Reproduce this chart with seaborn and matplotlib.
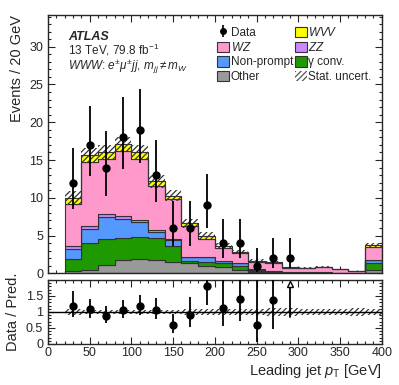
import numpy as np
import pandas as pd
import matplotlib
matplotlib.use("Agg")
import matplotlib.pyplot as plt
import seaborn as sns
from matplotlib.patches import Patch
from matplotlib.ticker import MultipleLocator, FixedLocator, FormatStrFormatter

# ---------------- data ----------------
bin_edges = list(range(20, 401, 20))
bin_centers = [30, 50, 70, 90, 110, 130, 150, 170, 190, 210, 230, 250, 270, 290, 310, 330, 350, 370, 390]

other = [0.25, 0.5, 1.1, 1.7, 1.85, 1.8, 1.5, 1.3, 0.95, 0.88, 0.5, 0.2, 0.15, 0.08, 0.05, 0.05, 0.04, 0.02, 0.45]
gconv = [1.59, 3.45, 3.5, 2.95, 3.0, 2.9, 2.15, 0.3, 0.55, 0.52, 0.46, 0.05, 0.05, 0.02, 0.02, 0.02, 0.02, 0.01, 0.95]
nonprompt = [1.41, 1.9, 2.9, 2.6, 1.9, 0.8, 0.8, 0.5, 0.6, 0.2, 0.34, 0.25, 0.1, 0.05, 0.03, 0.03, 0.02, 0.02, 0.35]
zz = [0.35, 0.45, 0.35, 0.35, 0.3, 0.25, 0.15, 0.1, 0.1, 0.05, 0.05, 0.02, 0.02, 0.01, 0.01, 0.01, 0.01, 0.0, 0.05]
wz = [5.6, 8.4, 7.25, 8.6, 8.05, 5.75, 5.2, 4.0, 2.4, 1.75, 1.3, 1.01, 1.08, 0.6, 0.61, 0.69, 0.46, 0.19, 1.7]
wvv = [0.8, 1.0, 0.95, 0.9, 0.9, 0.7, 0.5, 0.4, 0.4, 0.2, 0.2, 0.14, 0.05, 0.04, 0.03, 0.03, 0.02, 0.02, 0.2]
stat_unc = [0.85, 0.9, 0.95, 0.95, 0.95, 0.85, 0.75, 0.55, 0.45, 0.35, 0.3, 0.18, 0.16, 0.09, 0.08, 0.08, 0.06, 0.03, 0.35]

data_x = [30, 50, 70, 90, 110, 130, 150, 170, 190, 210, 230, 250, 270, 290]
data_counts = [12, 17, 14, 18, 19, 13, 6, 6, 9, 4, 4, 1, 2, 2]
data_err_up = [4.57, 5.21, 4.84, 5.33, 5.44, 4.71, 3.60, 3.60, 4.12, 3.18, 3.18, 2.32, 2.66, 2.66]
data_err_dn = [3.43, 4.09, 3.71, 4.21, 4.33, 3.57, 2.40, 2.40, 2.96, 1.94, 1.94, 0.87, 1.32, 1.32]

proc_names = ["WVV", "WZ", "ZZ", "Non-prompt", "γ conv.", "Other"]
proc_values = [wvv, wz, zz, nonprompt, gconv, other]
proc_colors = ["#ffff00", "#ff99cc", "#cc88ff", "#5599ff", "#1f9900", "#999999"]

# ---------------- style ----------------
sns.set_theme(style="ticks")
plt.rcParams["font.family"] = ["Liberation Sans", "DejaVu Sans"]
plt.rcParams["mathtext.fontset"] = "custom"
plt.rcParams["mathtext.rm"] = "Liberation Sans"
plt.rcParams["mathtext.it"] = "Liberation Sans:italic"
plt.rcParams["mathtext.bf"] = "Liberation Sans:bold"
plt.rcParams["hatch.linewidth"] = 0.9
plt.rcParams["axes.linewidth"] = 1.0

W, H = 399, 385
fig = plt.figure(figsize=(W / 100, H / 100), dpi=100)
ax = fig.add_axes([48 / W, 1 - 273.3 / H, 333.7 / W, 258.3 / H])
rax = fig.add_axes([48 / W, 1 - 344 / H, 333.7 / W, 64 / H])

rows = []
for name, vals in zip(proc_names, proc_values):
    for c, v in zip(bin_centers, vals):
        rows.append({"x": c, "w": v, "proc": name})
df = pd.DataFrame(rows)

sns.histplot(df, x="x", weights="w", hue="proc", hue_order=proc_names,
             palette=dict(zip(proc_names, proc_colors)), bins=bin_edges,
             multiple="stack", element="step", alpha=1, edgecolor="#333333",
             linewidth=0.8, legend=False, ax=ax)

total = np.sum(np.array(proc_values), axis=0)
unc = np.array(stat_unc)
ax.bar(bin_centers, 2 * unc, bottom=total - unc, width=20, color="none",
       hatch="//////", edgecolor="#333333", linewidth=0, zorder=3)

ax.errorbar(data_x, data_counts, yerr=[data_err_dn, data_err_up], fmt="o",
            color="black", ms=5, elinewidth=1.3, capsize=0, zorder=5)

ax.set_xlim(0, 400)
ax.set_ylim(0, 34.2)
ax.set_xlabel("")
ax.set_ylabel("Events / 20 GeV", loc="top", fontsize=10.5)
ax.xaxis.set_major_locator(MultipleLocator(50))
ax.xaxis.set_minor_locator(MultipleLocator(10))
ax.yaxis.set_major_locator(MultipleLocator(5))
ax.yaxis.set_minor_locator(MultipleLocator(1))
ax.tick_params(axis="both", which="both", direction="in", top=True, right=True, labelsize=9)
ax.tick_params(which="major", length=5, width=0.8)
ax.tick_params(which="minor", length=2.5, width=0.8)
ax.tick_params(axis="x", labelbottom=False)

# legend
data_handle = ax.errorbar([np.nan], [np.nan], yerr=[[1], [1]], fmt="o", color="black",
                          ms=4, elinewidth=1.2, capsize=0)
patch = {n: Patch(facecolor=c, edgecolor="#333333", linewidth=0.8)
         for n, c in zip(proc_names, proc_colors)}
stat_handle = Patch(facecolor="none", edgecolor="#555555", hatch="//////", linewidth=0)
handles = [data_handle, patch["WZ"], patch["Non-prompt"], patch["Other"],
           patch["WVV"], patch["ZZ"], patch["γ conv."], stat_handle]
labels = ["Data", "$WZ$", "Non-prompt", "Other", "$WVV$", "$ZZ$", "γ conv.", "Stat. uncert."]
ax.legend(handles, labels, ncol=2, loc="upper left", bbox_to_anchor=(0.507, 0.958),
          frameon=False, fontsize=8.5, handlelength=1.0, handleheight=1.0,
          handletextpad=0.15, columnspacing=0.15, labelspacing=0.18,
          borderpad=0, borderaxespad=0)

fig.text(68.5 / W, 1 - 39.5 / H, "ATLAS", fontsize=9, fontweight="bold", style="italic")
fig.text(68.5 / W, 1 - 55 / H, "13 TeV, 79.8 fb$^{-1}$", fontsize=8.5)
fig.text(68.5 / W, 1 - 70 / H, r"$WWW$: $e^{\pm}\mu^{\pm}jj$, $m_{jj} \neq m_{W}$", fontsize=8.5)

# ratio panel
rel = unc / total
rax.bar(bin_centers, 2 * rel, bottom=1 - rel, width=20, color="none",
        hatch="//////", edgecolor="#333333", linewidth=0)
rax.axhline(1, color="black", lw=1.0)
tot_data = total[:len(data_x)]
ratio = np.array(data_counts) / tot_data
r_up = np.array(data_err_up) / tot_data
r_dn = np.array(data_err_dn) / tot_data
inr = ratio < 2
rax.errorbar(np.array(data_x)[inr], ratio[inr], yerr=[r_dn[inr], r_up[inr]], fmt="o",
             color="black", ms=5, elinewidth=1.3, capsize=0, zorder=5)
for xx, rr, dd in zip(np.array(data_x)[~inr], ratio[~inr], r_dn[~inr]):
    rax.plot([xx, xx], [rr - dd, 1.86], color="black", lw=1.3)
    rax.plot([xx], [1.86], marker="^", ms=5, mfc="white", mec="black", mew=1.0)

rax.set_xlim(0, 400)
rax.set_ylim(0, 2.0)
rax.set_ylabel("Data / Pred.", fontsize=10.5)
rax.set_xlabel("Leading jet $p_{\\mathrm{T}}$ [GeV]", loc="right", fontsize=10.5, labelpad=2)
rax.xaxis.set_major_locator(MultipleLocator(50))
rax.xaxis.set_minor_locator(MultipleLocator(10))
rax.yaxis.set_major_locator(FixedLocator([0, 0.5, 1, 1.5]))
rax.yaxis.set_minor_locator(MultipleLocator(0.1))
rax.yaxis.set_major_formatter(FormatStrFormatter("%g"))
rax.tick_params(axis="both", which="both", direction="in", top=True, right=True, labelsize=9)
rax.tick_params(which="major", length=5, width=0.8)
rax.tick_params(which="minor", length=2.5, width=0.8)
rax.tick_params(axis="x", pad=2)

fig.align_ylabels([ax, rax])
fig.savefig("out.png", dpi=100)
